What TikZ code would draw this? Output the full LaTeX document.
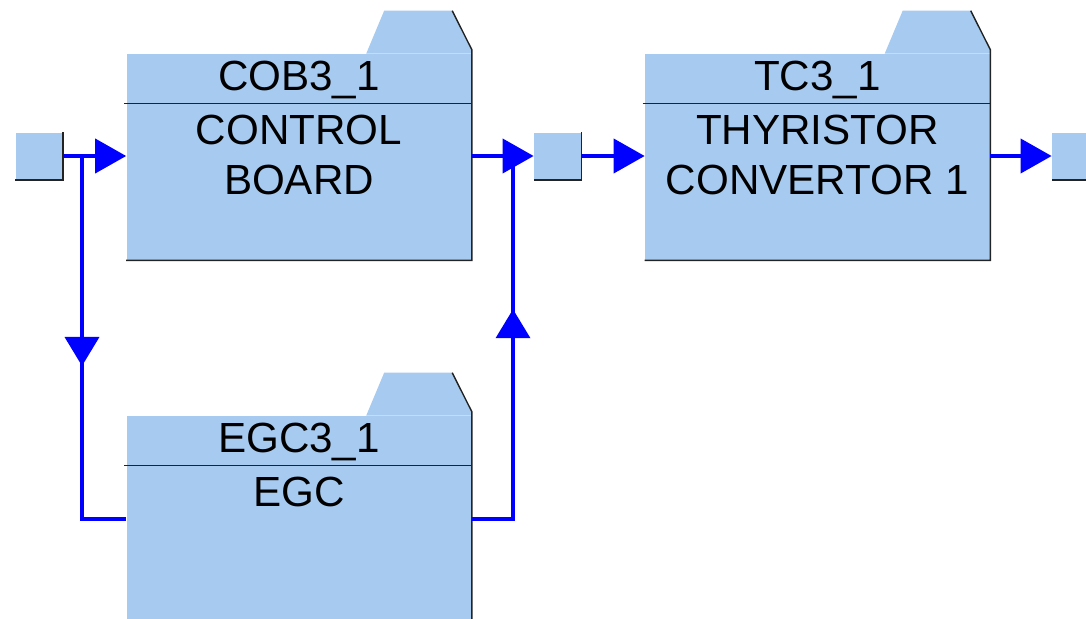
\documentclass[tikz,border=0pt]{standalone}
\usepackage{fontspec}
\setmainfont{Liberation Sans}
\usetikzlibrary{positioning, calc, arrows.meta, decorations.markings}
\definecolor{folderblue}{RGB}{166,202,240}
\definecolor{flowblue}{RGB}{0,0,255}
\definecolor{edgegray}{RGB}{35,35,35}
\tikzset{
    folder node/.style={rectangle, fill=folderblue, minimum width=6.9cm, minimum height=4.12cm, inner sep=0pt},
    port node/.style={rectangle, fill=folderblue, minimum size=0.94cm, inner sep=0pt},
    shade edge/.style={draw=edgegray, line width=0.8pt},
    flow/.style={draw=flowblue, line width=2.2pt},
    flow tip/.style={-{Triangle[length=0.62cm, width=0.68cm]}},
    flow mark/.style={postaction={decorate, decoration={markings,
        mark=at position #1 with {\arrow{Triangle[length=0.58cm, width=0.68cm]}}}}},
    title label/.style={font=\fontsize{24}{28.5}\selectfont, anchor=base, inner sep=0pt},
    body label/.style={font=\fontsize{24}{28.5}\selectfont, align=center, anchor=north, inner sep=0pt},
}
% folder block: name, centre, title, body text
\newcommand{\drawfolder}[4]{
    \node[folder node] (#1) at #2 {};
    \fill[folderblue] ($(#1.north west)+(240,0)$) -- ++(18,-43) -- ++(68,0)
        -- ($(#1.north east)+(0,-4)$) -- (#1.north east) -- cycle;
    \draw[shade edge] ($(#1.north west)+(326,-43)$) -- ($(#1.north east)+(0,-4)$)
        -- (#1.south east) -- (#1.south west);
    \draw[shade edge] ($(#1.north west)+(-2,50)$) -- ($(#1.north east)+(0,50)$);
    \node[title label] (#1-title) at ($(#1.north)+(0,37)$) {#3};
    \node[body label] (#1-body) at ($(#1.north)+(0,61)$) {#4};
}
\newcommand{\drawport}[2]{
    \node[port node] (#1) at #2 {};
    \draw[shade edge] (#1.north east) -- (#1.south east) -- (#1.south west);
}
\begin{document}
\begin{tikzpicture}[x=0.02cm, y=-0.02cm]
    \useasboundingbox (0,0) rectangle (1086,619);
    \clip (0,0) rectangle (1086,619);
    \drawfolder{cob}{(299,157)}{COB3\_1}{CONTROL\\BOARD}
    \drawfolder{tc}{(817.5,157)}{TC3\_1}{THYRISTOR\\CONVERTOR 1}
    \drawfolder{egc}{(299,519)}{EGC3\_1}{EGC}
    \drawport{in}{(39,156)}
    \drawport{mid}{(557.5,156)}
    \drawport{out}{(1075.5,156)}
    \coordinate (split) at (82,156);
    \coordinate (join) at (513,156);
    \draw[flow, flow tip] (in.east) -- (cob.west |- in.east);
    \draw[flow, flow tip] (cob.east |- mid.west) -- (mid.west);
    \draw[flow, flow tip] (mid.east) -- (tc.west |- mid.east);
    \draw[flow, flow tip] (tc.east |- out.west) -- (out.west);
    \draw[flow, flow mark=4.2cm] (split) |- (egc.west);
    \draw[flow, flow mark=5.02cm] (egc.east) -| (join);
\end{tikzpicture}
\end{document}
